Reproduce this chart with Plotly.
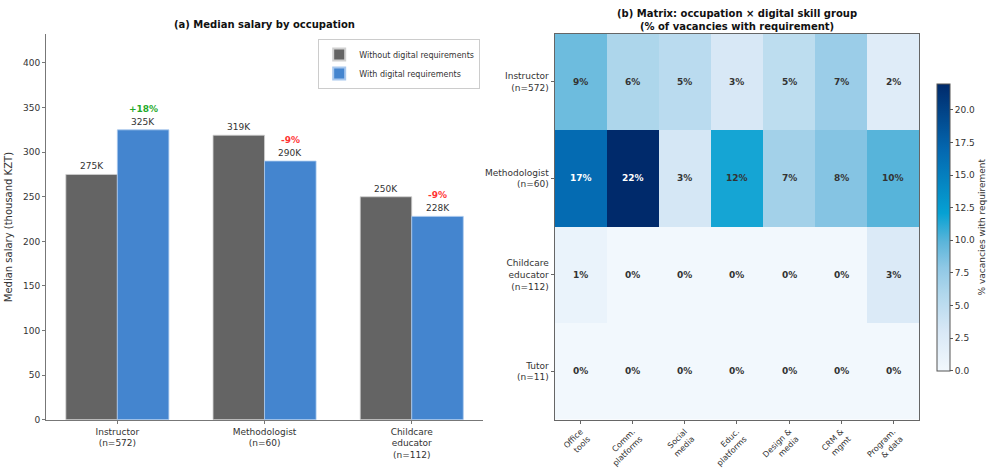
import plotly.graph_objects as go
import numpy as np

# ---- data ----
occupations = ["Instructor<br>(n=572)", "Methodologist<br>(n=60)", "Childcare<br>educator<br>(n=112)"]
salary_without = [275, 319, 250]
salary_with = [325, 290, 228]
pct_diff = ["+18%", "-9%", "-9%"]

heat_rows = ["Instructor<br>(n=572)", "Methodologist<br>(n=60)", "Childcare<br>educator<br>(n=112)", "Tutor<br>(n=11)"]
heat_cols = ["Office<br>tools", "Comm.<br>platforms", "Social<br>media", "Educ.<br>platforms",
             "Design &<br>media", "CRM &<br>mgmt", "Program.<br>& data"]
heat_vals = [
    [9.2, 6.1, 5.2, 3.1, 5.0, 7.2, 2.3],
    [16.7, 22.0, 3.3, 11.7, 6.7, 8.3, 10.0],
    [0.9, 0.0, 0.0, 0.0, 0.0, 0.0, 2.7],
    [0.0, 0.0, 0.0, 0.0, 0.0, 0.0, 0.0],
]

GRAY = "#646464"
BLUE = "#4485cf"
FONT = "DejaVu Sans"
w = 0.35

fig = go.Figure()
idx = np.arange(len(occupations))
fig.add_trace(go.Bar(x=idx - w / 2, y=salary_without, width=w, name="Without digital requirements",
                     marker=dict(color=GRAY, line=dict(color="#d0d0d0", width=0.8)),
                     xaxis="x", yaxis="y"))
fig.add_trace(go.Bar(x=idx + w / 2, y=salary_with, width=w, name="With digital requirements",
                     marker=dict(color=BLUE, line=dict(color="#a8c8ee", width=0.8)),
                     xaxis="x", yaxis="y"))

ann = []
for i in range(len(occupations)):
    ann.append(dict(x=idx[i] - w / 2, y=salary_without[i], xref="x", yref="y", text=f"{salary_without[i]}K",
                    showarrow=False, yanchor="bottom", yshift=1, font=dict(size=9, color="#333", family=FONT)))
    ann.append(dict(x=idx[i] + w / 2, y=salary_with[i], xref="x", yref="y", text=f"{salary_with[i]}K",
                    showarrow=False, yanchor="bottom", yshift=1, font=dict(size=9, color="#333", family=FONT)))
    col = "#1faa2a" if pct_diff[i].startswith("+") else "#ff3333"
    ann.append(dict(x=idx[i] + w / 2, y=salary_with[i], xref="x", yref="y", text=f"<b>{pct_diff[i]}</b>",
                    showarrow=False, yanchor="bottom", yshift=14, font=dict(size=9, color=col, family=FONT)))

# heatmap
colorscale = [
    [0.0, "#f2f8fd"], [0.14, "#d8e8f6"], [0.27, "#b0d7ec"], [0.36, "#8fc8e5"],
    [0.45, "#5bb5da"], [0.55, "#06a1d3"], [0.77, "#0468b0"], [1.0, "#002a6b"],
]
zmax = max(max(r) for r in heat_vals)
fig.add_trace(go.Heatmap(z=heat_vals, x=heat_cols, y=heat_rows, colorscale=colorscale, zmin=0, zmax=zmax,
                         xaxis="x2", yaxis="y2", showscale=True, hoverinfo="skip",
                         colorbar=dict(x=0.948, xanchor="left", y=0.505, yanchor="middle", len=0.669,
                                       lenmode="fraction", thickness=13, outlinewidth=1, outlinecolor="#555",
                                       tickvals=[0, 2.5, 5, 7.5, 10, 12.5, 15, 17.5, 20],
                                       ticktext=["0.0", "2.5", "5.0", "7.5", "10.0", "12.5", "15.0", "17.5", "20.0"],
                                       ticks="outside", ticklen=3, tickcolor="#555",
                                       tickfont=dict(size=9, color="#333", family=FONT),
                                       title=dict(text="% vacancies with requirement", side="right",
                                                  font=dict(size=9, color="#333", family=FONT)))))
for r, row in enumerate(heat_rows):
    for c, col_name in enumerate(heat_cols):
        v = heat_vals[r][c]
        ann.append(dict(x=col_name, y=row, xref="x2", yref="y2", text=f"<b>{v:.0f}%</b>", showarrow=False,
                        font=dict(size=9, family=FONT, color="white" if v > 14 else "#333")))

ann.append(dict(x=0.2705, y=0.947, xref="paper", yref="paper", xanchor="center", yanchor="middle",
                text="<b>(a) Median salary by occupation</b>",
                showarrow=False, font=dict(size=10, color="#111", family=FONT)))
ann.append(dict(x=0.7535, y=0.956, xref="paper", yref="paper", xanchor="center", yanchor="middle",
                text="<b>(b) Matrix: occupation × digital skill group<br>(% of vacancies with requirement)</b>",
                showarrow=False, font=dict(size=10, color="#111", family=FONT)))

fig.update_layout(
    width=998, height=468, margin=dict(l=0, r=0, t=0, b=0),
    paper_bgcolor="white", plot_bgcolor="white",
    font=dict(family=FONT, size=9, color="#333"),
    barmode="overlay",
    showlegend=True,
    legend=dict(x=0.491, xanchor="right", y=0.915, yanchor="top", bgcolor="white",
                bordercolor="#ccc", borderwidth=1, font=dict(size=8, family=FONT, color="#333"),
                itemsizing="constant", tracegroupgap=0, itemwidth=30),
    xaxis=dict(domain=[0.047, 0.494], range=[-0.485, 2.485], tickvals=list(idx), ticktext=occupations,
               showline=True, linecolor="#777", ticks="outside", ticklen=3, tickcolor="#777",
               showgrid=False, zeroline=False, tickfont=dict(size=9, color="#333")),
    yaxis=dict(domain=[0.0855, 0.925], range=[0, 432], dtick=50, showline=True, linecolor="#777",
               ticks="outside", ticklen=3, tickcolor="#777", showgrid=False, zeroline=False,
               tickfont=dict(size=9, color="#333"),
               title=dict(text="Median salary (thousand KZT)", font=dict(size=10, color="#333"), standoff=8)),
    xaxis2=dict(domain=[0.567, 0.940], anchor="y2", showline=True, mirror=True, linecolor="#666",
                ticks="outside", ticklen=3, tickcolor="#666", tickangle=-45, showgrid=False, zeroline=False,
                tickfont=dict(size=8, color="#333")),
    yaxis2=dict(domain=[0.0855, 0.927], anchor="x2", autorange="reversed", showline=True, mirror=True,
                linecolor="#666", ticks="outside", ticklen=3, tickcolor="#666", showgrid=False,
                zeroline=False, tickfont=dict(size=9, color="#333")),
    annotations=ann,
)

fig.write_html("out.html")
